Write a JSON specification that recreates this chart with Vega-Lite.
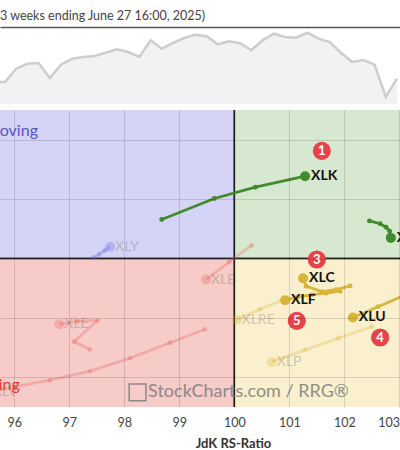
{
  "$schema": "https://vega.github.io/schema/vega-lite/v6.json",
  "padding": {"top": 9, "left": 0, "right": 0, "bottom": 0},
  "autosize": {"type": "pad"},
  "spacing": 6,
  "config": {"font": "Lato", "view": {"stroke": null}},
  "datasets": {
    "bench": [
      {"t": -1, "v": 22}, {"t": 0, "v": 22}, {"t": 1, "v": 35.3}, {"t": 2, "v": 40.3}, {"t": 3, "v": 41},
      {"t": 4, "v": 26}, {"t": 5, "v": 39.3}, {"t": 6, "v": 45.3}, {"t": 7, "v": 47}, {"t": 8, "v": 48},
      {"t": 9, "v": 51.3}, {"t": 10, "v": 54.7}, {"t": 11, "v": 52}, {"t": 12, "v": 47}, {"t": 13, "v": 63.7},
      {"t": 14, "v": 55.3}, {"t": 15, "v": 61}, {"t": 16, "v": 66}, {"t": 17, "v": 69.3}, {"t": 18, "v": 67.7},
      {"t": 19, "v": 59.7}, {"t": 20, "v": 62.7}, {"t": 21, "v": 60.7}, {"t": 22, "v": 53.7}, {"t": 23, "v": 63.7},
      {"t": 24, "v": 70.3}, {"t": 25, "v": 67}, {"t": 26, "v": 66.3}, {"t": 27, "v": 71.3}, {"t": 28, "v": 65.3},
      {"t": 29, "v": 62}, {"t": 30, "v": 51.3}, {"t": 31, "v": 42}, {"t": 32, "v": 44}, {"t": 33, "v": 39.3},
      {"t": 34, "v": 7}, {"t": 35, "v": 25.3}
    ],
    "quads": [
      {"quad": "Improving", "rs": 95, "rs2": 100, "mom": 100, "mom2": 103},
      {"quad": "Leading", "rs": 100, "rs2": 104, "mom": 100, "mom2": 103},
      {"quad": "Lagging", "rs": 95, "rs2": 100, "mom": 97, "mom2": 100},
      {"quad": "Weakening", "rs": 100, "rs2": 104, "mom": 97, "mom2": 100}
    ],
    "tracks": [
      {"sym": "XLK", "i": 1, "rs": 98.68, "mom": 100.657, "grp": "green", "faded": 0, "head": 0},
      {"sym": "XLK", "i": 2, "rs": 99.636, "mom": 101.01, "grp": "green", "faded": 0, "head": 0},
      {"sym": "XLK", "i": 3, "rs": 100.382, "mom": 101.2, "grp": "green", "faded": 0, "head": 0},
      {"sym": "XLK", "i": 4, "rs": 101.285, "mom": 101.385, "grp": "green", "faded": 0, "head": 1},
      {"sym": "XLI", "i": 1, "rs": 102.455, "mom": 100.633, "grp": "green", "faded": 0, "head": 0},
      {"sym": "XLI", "i": 2, "rs": 102.649, "mom": 100.586, "grp": "green", "faded": 0, "head": 0},
      {"sym": "XLI", "i": 3, "rs": 102.758, "mom": 100.527, "grp": "green", "faded": 0, "head": 0},
      {"sym": "XLI", "i": 4, "rs": 102.822, "mom": 100.46, "grp": "green", "faded": 0, "head": 0},
      {"sym": "XLI", "i": 5, "rs": 102.844, "mom": 100.347, "grp": "green", "faded": 0, "head": 1},
      {"sym": "XLC", "i": 1, "rs": 102.104, "mom": 99.539, "grp": "gold", "faded": 0, "head": 0},
      {"sym": "XLC", "i": 2, "rs": 101.849, "mom": 99.475, "grp": "gold", "faded": 0, "head": 0},
      {"sym": "XLC", "i": 3, "rs": 101.595, "mom": 99.441, "grp": "gold", "faded": 0, "head": 0},
      {"sym": "XLC", "i": 4, "rs": 101.304, "mom": 99.534, "grp": "gold", "faded": 0, "head": 0},
      {"sym": "XLC", "i": 5, "rs": 101.249, "mom": 99.668, "grp": "gold", "faded": 0, "head": 1},
      {"sym": "XLF", "i": 1, "rs": 101.922, "mom": 99.449, "grp": "gold", "faded": 0, "head": 0},
      {"sym": "XLF", "i": 2, "rs": 101.667, "mom": 99.416, "grp": "gold", "faded": 0, "head": 0},
      {"sym": "XLF", "i": 3, "rs": 101.413, "mom": 99.391, "grp": "gold", "faded": 0, "head": 0},
      {"sym": "XLF", "i": 4, "rs": 101.14, "mom": 99.348, "grp": "gold", "faded": 0, "head": 0},
      {"sym": "XLF", "i": 5, "rs": 100.922, "mom": 99.298, "grp": "gold", "faded": 0, "head": 1},
      {"sym": "XLU", "i": 1, "rs": 103.922, "mom": 99.719, "grp": "gold", "faded": 0, "head": 0},
      {"sym": "XLU", "i": 2, "rs": 103.485, "mom": 99.542, "grp": "gold", "faded": 0, "head": 0},
      {"sym": "XLU", "i": 3, "rs": 103.049, "mom": 99.365, "grp": "gold", "faded": 0, "head": 0},
      {"sym": "XLU", "i": 4, "rs": 102.613, "mom": 99.189, "grp": "gold", "faded": 0, "head": 0},
      {"sym": "XLU", "i": 5, "rs": 102.153, "mom": 99.007, "grp": "gold", "faded": 0, "head": 1},
      {"sym": "XLP", "i": 1, "rs": 102.504, "mom": 98.854, "grp": "gold", "faded": 1, "head": 0},
      {"sym": "XLP", "i": 2, "rs": 101.885, "mom": 98.658, "grp": "gold", "faded": 1, "head": 0},
      {"sym": "XLP", "i": 3, "rs": 101.285, "mom": 98.46, "grp": "gold", "faded": 1, "head": 0},
      {"sym": "XLP", "i": 4, "rs": 100.68, "mom": 98.259, "grp": "gold", "faded": 1, "head": 1},
      {"sym": "XLRE", "i": 1, "rs": 100.867, "mom": 99.298, "grp": "gold", "faded": 1, "head": 0},
      {"sym": "XLRE", "i": 2, "rs": 100.467, "mom": 99.146, "grp": "gold", "faded": 1, "head": 0},
      {"sym": "XLRE", "i": 3, "rs": 100.04, "mom": 98.97, "grp": "gold", "faded": 1, "head": 1},
      {"sym": "XLB", "i": 1, "rs": 100.316, "mom": 100.224, "grp": "red", "faded": 1, "head": 0},
      {"sym": "XLB", "i": 2, "rs": 99.904, "mom": 99.938, "grp": "red", "faded": 1, "head": 0},
      {"sym": "XLB", "i": 3, "rs": 99.485, "mom": 99.646, "grp": "red", "faded": 1, "head": 1},
      {"sym": "XLE", "i": 1, "rs": 97.376, "mom": 98.468, "grp": "red", "faded": 1, "head": 0},
      {"sym": "XLE", "i": 2, "rs": 97.085, "mom": 98.599, "grp": "red", "faded": 1, "head": 0},
      {"sym": "XLE", "i": 3, "rs": 97.504, "mom": 98.953, "grp": "red", "faded": 1, "head": 0},
      {"sym": "XLE", "i": 4, "rs": 97.158, "mom": 98.944, "grp": "red", "faded": 1, "head": 0},
      {"sym": "XLE", "i": 5, "rs": 96.818, "mom": 98.894, "grp": "red", "faded": 1, "head": 1},
      {"sym": "XLV", "i": 1, "rs": 99.467, "mom": 98.81, "grp": "red", "faded": 1, "head": 0},
      {"sym": "XLV", "i": 2, "rs": 98.831, "mom": 98.582, "grp": "red", "faded": 1, "head": 0},
      {"sym": "XLV", "i": 3, "rs": 98.104, "mom": 98.322, "grp": "red", "faded": 1, "head": 0},
      {"sym": "XLV", "i": 4, "rs": 97.376, "mom": 98.103, "grp": "red", "faded": 1, "head": 0},
      {"sym": "XLV", "i": 5, "rs": 96.649, "mom": 97.951, "grp": "red", "faded": 1, "head": 0},
      {"sym": "XLV", "i": 6, "rs": 96.013, "mom": 97.842, "grp": "red", "faded": 1, "head": 0},
      {"sym": "XLV", "i": 7, "rs": 95.522, "mom": 97.749, "grp": "red", "faded": 1, "head": 1},
      {"sym": "XLY", "i": 1, "rs": 97.431, "mom": 100.013, "grp": "blue", "faded": 1, "head": 0},
      {"sym": "XLY", "i": 2, "rs": 97.54, "mom": 100.072, "grp": "blue", "faded": 1, "head": 0},
      {"sym": "XLY", "i": 3, "rs": 97.64, "mom": 100.131, "grp": "blue", "faded": 1, "head": 0},
      {"sym": "XLY", "i": 4, "rs": 97.74, "mom": 100.199, "grp": "blue", "faded": 1, "head": 1}
    ],
    "badges": [
      {"n": "1", "rs": 101.589, "mom": 101.811},
      {"n": "3", "rs": 101.498, "mom": 99.983},
      {"n": "5", "rs": 101.134, "mom": 98.95},
      {"n": "4", "rs": 102.649, "mom": 98.67}
    ],
    "improving": [{"lab": "Improving", "rs": 96.43, "mom": 102.14}],
    "lagging": [{"lab": "Lagging", "rs": 96.1, "mom": 97.867}],
    "mark": [{"lab": "StockCharts.com / RRG®", "rs": 98.431, "mom": 97.749}],
    "icon": [{"rs": 98.24, "mom": 97.745}]
  },
  "vconcat": [
    {
      "width": 400,
      "height": 77,
      "title": {"text": "3 weeks ending June 27 16:00, 2025)", "anchor": "start", "fontSize": 12.5, "fontWeight": "normal", "color": "#444", "offset": 5},
      "data": {"name": "bench"},
      "mark": {"type": "area", "clip": true, "color": "#ececec", "line": {"color": "#cdcdcd", "strokeWidth": 2.5}},
      "encoding": {
        "x": {"field": "t", "type": "quantitative", "scale": {"domain": [-0.446, 35.27], "nice": false, "zero": false},
              "axis": {"orient": "top", "domain": true, "domainColor": "#555", "domainWidth": 1.5, "labels": false, "ticks": false, "grid": false, "title": null}},
        "y": {"field": "v", "type": "quantitative", "scale": {"domain": [0, 77], "nice": false}, "axis": null}
      }
    },
    {
      "width": 400,
      "height": 297,
      "encoding": {
        "x": {"field": "rs", "type": "quantitative", "scale": {"domain": [95.74, 103.01], "nice": false, "zero": false},
              "axis": {"title": "JdK RS-Ratio", "titleX": 233, "titleY": 36, "titleBaseline": "middle", "titleAlign": "center", "titleFontSize": 13, "titleFontWeight": "bold", "titleColor": "#333",
                       "values": [96, 97, 98, 99, 100, 101, 102, 103], "format": "d", "labelFontSize": 12.5, "labelColor": "#444", "labelPadding": 9,
                       "domain": false, "ticks": false, "grid": true, "gridColor": "#000", "gridOpacity": 0.13, "zindex": 1}},
        "y": {"field": "mom", "type": "quantitative", "scale": {"domain": [97.5, 102.5], "nice": false, "zero": false},
              "axis": {"values": [98, 99, 100, 101, 102], "labels": false, "ticks": false, "domain": false, "title": null, "grid": true, "gridColor": "#000", "gridOpacity": 0.13, "zindex": 1, "minExtent": 0}}
      },
      "layer": [
        {
          "data": {"name": "quads"},
          "mark": {"type": "rect", "clip": true, "stroke": "#222", "strokeWidth": 1.5},
          "encoding": {
            "x2": {"field": "rs2"},
            "y2": {"field": "mom2"},
            "fill": {"field": "quad", "type": "nominal", "legend": null,
                     "scale": {"domain": ["Improving", "Leading", "Lagging", "Weakening"], "range": ["#d6d4f6", "#d7e8d0", "#f6cbc8", "#faf0cd"]}}
          }
        },
        {
          "data": {"name": "tracks"},
          "mark": {"type": "line", "clip": true, "strokeWidth": 2.8},
          "encoding": {
            "detail": {"field": "sym"},
            "order": {"field": "i"},
            "color": {"field": "grp", "type": "nominal", "legend": null,
                      "scale": {"domain": ["green", "gold", "red", "blue"], "range": ["#408b2c", "#d8b63a", "#e8605a", "#6b68e0"]}},
            "opacity": {"field": "faded", "type": "quantitative", "legend": null, "scale": {"domain": [0, 1], "range": [1, 0.3]}}
          }
        },
        {
          "data": {"name": "tracks"},
          "transform": [{"filter": "datum.head == 0"}],
          "mark": {"type": "circle", "clip": true, "size": 24},
          "encoding": {
            "color": {"field": "grp", "type": "nominal", "legend": null},
            "opacity": {"field": "faded", "type": "quantitative", "legend": null}
          }
        },
        {
          "data": {"name": "tracks"},
          "transform": [{"filter": "datum.head == 1"}],
          "mark": {"type": "circle", "clip": true, "size": 100},
          "encoding": {
            "color": {"field": "grp", "type": "nominal", "legend": null},
            "opacity": {"field": "faded", "type": "quantitative", "legend": null}
          }
        },
        {
          "data": {"name": "tracks"},
          "transform": [{"filter": "datum.head == 1 && datum.faded == 0"}],
          "mark": {"type": "text", "clip": true, "align": "left", "baseline": "middle", "dx": 6, "fontSize": 14, "fontWeight": "bold", "color": "#111"},
          "encoding": {"text": {"field": "sym"}}
        },
        {
          "data": {"name": "tracks"},
          "transform": [{"filter": "datum.head == 1 && datum.faded == 1"}],
          "mark": {"type": "text", "clip": true, "align": "left", "baseline": "middle", "dx": 5, "fontSize": 14, "color": "#333", "opacity": 0.22},
          "encoding": {"text": {"field": "sym"}}
        },
        {
          "data": {"name": "badges"},
          "mark": {"type": "circle", "clip": true, "size": 330, "color": "#e8434b", "opacity": 1},
          "encoding": {}
        },
        {
          "data": {"name": "badges"},
          "mark": {"type": "text", "clip": true, "fontSize": 13, "fontWeight": "bold", "color": "#fff", "baseline": "middle", "align": "center"},
          "encoding": {"text": {"field": "n"}}
        },
        {
          "data": {"name": "improving"},
          "mark": {"type": "text", "clip": true, "align": "right", "baseline": "middle", "fontSize": 16, "color": "#5555c8"},
          "encoding": {"text": {"field": "lab"}}
        },
        {
          "data": {"name": "lagging"},
          "mark": {"type": "text", "clip": true, "align": "right", "baseline": "middle", "fontSize": 16, "color": "#e03c31"},
          "encoding": {"text": {"field": "lab"}}
        },
        {
          "data": {"name": "mark"},
          "mark": {"type": "text", "clip": true, "align": "left", "baseline": "middle", "fontSize": 18, "color": "#7c7c7c", "opacity": 0.85},
          "encoding": {"text": {"field": "lab"}}
        },
        {
          "data": {"name": "icon"},
          "mark": {"type": "point", "clip": true, "shape": "square", "size": 280, "filled": false, "color": "#7c7c7c", "strokeWidth": 1.5, "opacity": 0.85},
          "encoding": {}
        }
      ]
    }
  ]
}
